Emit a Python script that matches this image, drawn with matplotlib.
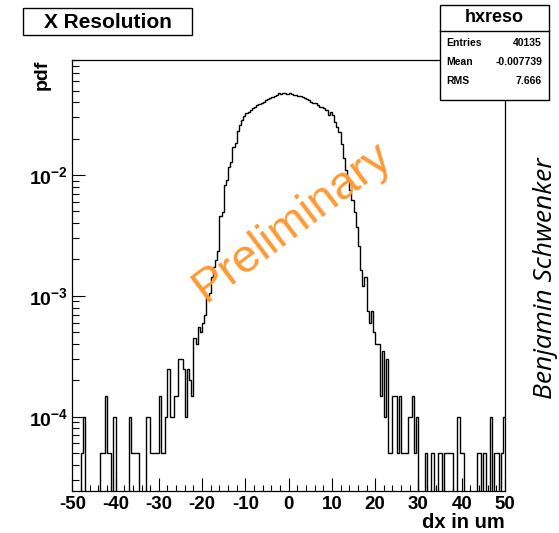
#!/usr/bin/env python3
"""X resolution histogram, ROOT-style look."""

import matplotlib
matplotlib.use('Agg')
import matplotlib.pyplot as plt
import matplotlib.patches as mpatches
from matplotlib.ticker import FixedLocator, MultipleLocator, FuncFormatter
import numpy as np

plt.rcParams.update({
    'font.family': 'Liberation Sans',
    'font.weight': 'bold',
    'axes.unicode_minus': False,
    'mathtext.fontset': 'custom',
    'mathtext.rm': 'Liberation Sans:bold',
    'mathtext.bf': 'Liberation Sans:bold',
    'mathtext.default': 'rm',
})

W, H = 559, 533

# --- data: counts per 0.5 um bin, -50..50 um (200 bins) ---
X_MIN, X_MAX, N_BINS = -50, 50, 200
ENTRIES = 40135
MEAN = -0.007739
RMS = 7.666

counts = [
    0, 0, 0, 0, 1, 2, 0, 0, 0, 0,
    0, 0, 0, 1, 1, 3, 1, 1, 0, 2,
    0, 0, 0, 0, 0, 0, 2, 1, 1, 1,
    1, 0, 0, 0, 2, 2, 1, 1, 1, 1,
    3, 1, 1, 2, 5, 2, 2, 3, 3, 6,
    6, 5, 2, 5, 4, 3, 9, 8, 11, 10,
    12, 14, 20, 21, 29, 35, 40, 47, 92, 100,
    166, 183, 235, 259, 340, 371, 466, 519, 571, 617,
    657, 669, 691, 714, 736, 760, 775, 795, 810, 837,
    847, 863, 891, 903, 920, 950, 937, 961, 950, 937,
    950, 937, 930, 920, 903, 903, 881, 868, 847, 837,
    810, 795, 785, 760, 736, 727, 714, 691, 628, 669,
    628, 554, 503, 457, 360, 280, 220, 183, 151, 125,
    100, 74, 52, 33, 24, 29, 15, 12, 15, 10,
    8, 8, 3, 7, 2, 6, 1, 1, 3, 3,
    1, 3, 1, 1, 1, 2, 2, 3, 1, 2,
    0, 0, 0, 1, 0, 0, 1, 0, 0, 1,
    1, 0, 1, 1, 1, 1, 0, 0, 2, 1,
    1, 0, 0, 0, 0, 0, 0, 1, 1, 0,
    1, 0, 0, 2, 0, 1, 1, 0, 1, 2,
]

x_ticks = [-50, -40, -30, -20, -10, 0, 10, 20, 30, 40, 50]
y_ticks = [1e-4, 1e-3, 1e-2]
Y_MIN, Y_MAX = 2.45e-5, 0.0903

bin_w = (X_MAX - X_MIN) / N_BINS
edges = np.linspace(X_MIN, X_MAX, N_BINS + 1)
pdf = np.array(counts, dtype=float) / (ENTRIES * bin_w)


def fx(px):
    return px / W


def fy(py):
    return 1 - py / H


fig = plt.figure(figsize=(W / 100, H / 100), dpi=100)
ax = fig.add_axes([fx(72.3), fy(490.5), fx(505) - fx(72.3), fy(59.5) - fy(490.5)])

ax.stairs(pdf, edges, baseline=None, color='black', linewidth=1.0, zorder=3)

ax.set_yscale('log')
ax.set_xlim(X_MIN, X_MAX)
ax.set_ylim(Y_MIN, Y_MAX)

ax.xaxis.set_major_locator(FixedLocator(x_ticks))
ax.xaxis.set_minor_locator(MultipleLocator(2))
ax.yaxis.set_major_locator(FixedLocator(y_ticks))
ax.yaxis.set_major_formatter(FuncFormatter(lambda v, p: '$10^{%d}$' % round(np.log10(v))))

ax.tick_params(which='both', direction='in', top=False, right=False, width=0.8)
ax.tick_params(axis='x', which='major', length=9.5, pad=4, labelsize=13.5)
ax.tick_params(axis='x', which='minor', length=4.5)
ax.tick_params(axis='y', which='major', length=9.5, pad=3, labelsize=14)
ax.tick_params(axis='y', which='minor', length=5)
for sp in ax.spines.values():
    sp.set_linewidth(0.9)

# axis titles (ROOT puts them at the far end of the axis)
fig.text(fx(505), fy(523), 'dx in um', ha='right', va='center',
         fontsize=14.5, fontweight='bold')
fig.text(fx(42), fy(60), 'pdf', ha='center', va='top', rotation=90,
         fontsize=14, fontweight='bold')

# watermark + author
fig.text(fx(292), fy(222), 'Preliminary', ha='center', va='center',
         rotation=37, rotation_mode='anchor', fontsize=34,
         fontweight='normal', color='#ff9933', zorder=5)
fig.text(fx(545), fy(278), 'Benjamin Schwenker', ha='center', va='center',
         rotation=90, fontsize=19, fontweight='normal', style='italic',
         family='Open Sans')

# title box
fig.add_artist(mpatches.Rectangle((fx(23), fy(35)), fx(192) - fx(23), fy(8) - fy(35),
                                  transform=fig.transFigure, facecolor='white',
                                  edgecolor='black', linewidth=1.0, zorder=10))
fig.text(fx(107.5), fy(22), 'X Resolution', ha='center', va='center',
         fontsize=15, fontweight='bold', zorder=11)

# stats box
fig.add_artist(mpatches.Rectangle((fx(440), fy(100)), fx(549) - fx(440), fy(5) - fy(100),
                                  transform=fig.transFigure, facecolor='white',
                                  edgecolor='black', linewidth=1.0, zorder=10))
fig.add_artist(plt.Line2D([fx(440), fx(549)], [fy(31), fy(31)],
                          transform=fig.transFigure, color='black',
                          linewidth=1.0, zorder=11))
fig.text(fx(494.5), fy(18), 'hxreso', ha='center', va='center',
         fontsize=13, fontweight='bold', zorder=11)
stat_rows = [('Entries', f'{ENTRIES}'), ('Mean', f'{MEAN}'), ('RMS', f'{RMS}')]
for (name, val), yy in zip(stat_rows, [43, 62, 80.5]):
    fig.text(fx(446), fy(yy), name, ha='left', va='center', fontsize=7.5,
             fontweight='bold', zorder=11)
    fig.text(fx(542), fy(yy), val, ha='right', va='center', fontsize=7.5,
             fontweight='bold', zorder=11)

fig.savefig('out.png', dpi=100)
